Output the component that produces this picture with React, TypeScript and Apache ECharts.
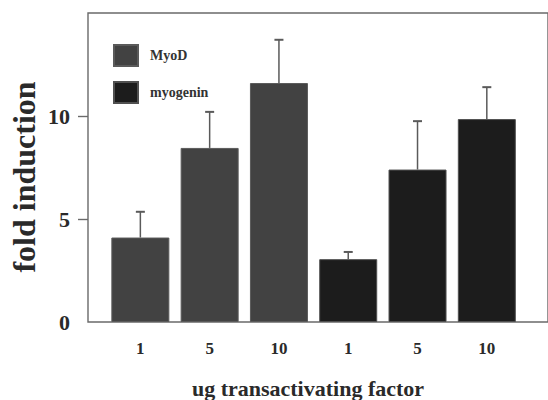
import React, { useEffect, useRef } from "react";
import * as echarts from "echarts";

const seriesNames = ["MyoD", "myogenin"];
const categoryLabels = ["1", "5", "10", "1", "5", "10"];
const myoDPositions = [1, 2, 3];
const myoDValues = [4.1, 8.45, 11.6];
const myoDErrorTops = [5.35, 10.2, 13.7];
const myogeninPositions = [4, 5, 6];
const myogeninValues = [3.05, 7.4, 9.85];
const myogeninErrorTops = [3.4, 9.75, 11.4];
const yTickValues = [0, 5, 10];

const FONT = "'Liberation Serif', 'Times New Roman', serif";

export default function App() {
  const ref = useRef<HTMLDivElement>(null);

  useEffect(() => {
    if (!ref.current) return;
    const chart = echarts.init(ref.current, undefined, { renderer: "svg" });

    const errData = [
      ...myoDPositions.map((x, i) => [x, myoDErrorTops[i], myoDValues[i]]),
      ...myogeninPositions.map((x, i) => [x, myogeninErrorTops[i], myogeninValues[i]]),
    ];

    const option: any = {
      animation: false,
      backgroundColor: "#ffffff",
      grid: {
        left: 88,
        right: -10,
        top: 13,
        bottom: 78,
        show: true,
        borderColor: "#6a6a6a",
        borderWidth: 1.4,
        backgroundColor: "transparent",
      },
      legend: {
        orient: "vertical",
        left: 113,
        top: 44,
        padding: 0,
        itemWidth: 24,
        itemHeight: 21,
        itemGap: 14,
        icon: "rect",
        data: seriesNames,
        textStyle: {
          fontFamily: FONT,
          fontWeight: "bold",
          fontSize: 14,
          color: "#333333",
          padding: [0, 0, 0, 7],
        },
      },
      xAxis: {
        type: "value",
        min: 0.2444,
        max: 6.883,
        splitLine: { show: false },
        axisLine: { show: false },
        axisTick: { show: false },
        axisLabel: {
          customValues: [1, 2, 3, 4, 5, 6],
          formatter: (v: number) => categoryLabels[Math.round(v) - 1] ?? "",
          fontFamily: FONT,
          fontWeight: "bold",
          fontSize: 17,
          color: "#2a2a2a",
          margin: 18,
        },
      },
      yAxis: {
        type: "value",
        min: 0,
        max: 15,
        interval: 5,
        splitLine: { show: false },
        axisLine: { show: false },
        axisTick: {
          show: true,
          inside: false,
          length: 10,
          customValues: [5, 10],
          lineStyle: { color: "#6a6a6a", width: 1.4 },
        },
        axisLabel: {
          customValues: yTickValues,
          fontFamily: FONT,
          fontWeight: "bold",
          fontSize: 22,
          color: "#2a2a2a",
          margin: 18,
        },
      },
      graphic: [
        {
          type: "text",
          x: 24,
          y: 177,
          rotation: Math.PI / 2,
          style: {
            text: "fold induction",
            fontFamily: FONT,
            fontWeight: "bold",
            fontSize: 32,
            fill: "#2a2a2a",
            align: "center",
            verticalAlign: "middle",
          },
        },
        {
          type: "text",
          x: 308,
          y: 388,
          style: {
            text: "ug transactivating factor",
            fontFamily: FONT,
            fontWeight: "bold",
            fontSize: 22,
            fill: "#2a2a2a",
            align: "center",
            verticalAlign: "middle",
          },
        },
      ],
      series: [
        {
          name: seriesNames[0],
          type: "bar",
          barWidth: 58,
          barGap: "-100%",
          data: myoDPositions.map((x, i) => [x, myoDValues[i]]),
          itemStyle: { color: "#424242", borderColor: "#5a5a5a", borderWidth: 1 },
        },
        {
          name: seriesNames[1],
          type: "bar",
          barWidth: 58,
          barGap: "-100%",
          data: myogeninPositions.map((x, i) => [x, myogeninValues[i]]),
          itemStyle: { color: "#1c1c1c", borderColor: "#505050", borderWidth: 1 },
        },
        {
          name: "error",
          type: "custom",
          z: 3,
          data: errData,
          renderItem: (params: any, api: any) => {
            const x = api.value(0);
            const top = api.coord([x, api.value(1)]);
            const base = api.coord([x, api.value(2)]);
            const style = { stroke: "#5a5a5a", lineWidth: 1.5 };
            return {
              type: "group",
              children: [
                { type: "line", shape: { x1: top[0], y1: top[1], x2: base[0], y2: base[1] }, style },
                { type: "line", shape: { x1: top[0] - 4.5, y1: top[1], x2: top[0] + 4.5, y2: top[1] }, style: { stroke: "#5a5a5a", lineWidth: 2 } },
              ],
            };
          },
        },
      ],
    };

    chart.setOption(option);
    return () => chart.dispose();
  }, []);

  return (
    <div
      ref={ref}
      style={{ position: "absolute", left: 0, top: 0, width: 548, height: 400 }}
    />
  );
}
